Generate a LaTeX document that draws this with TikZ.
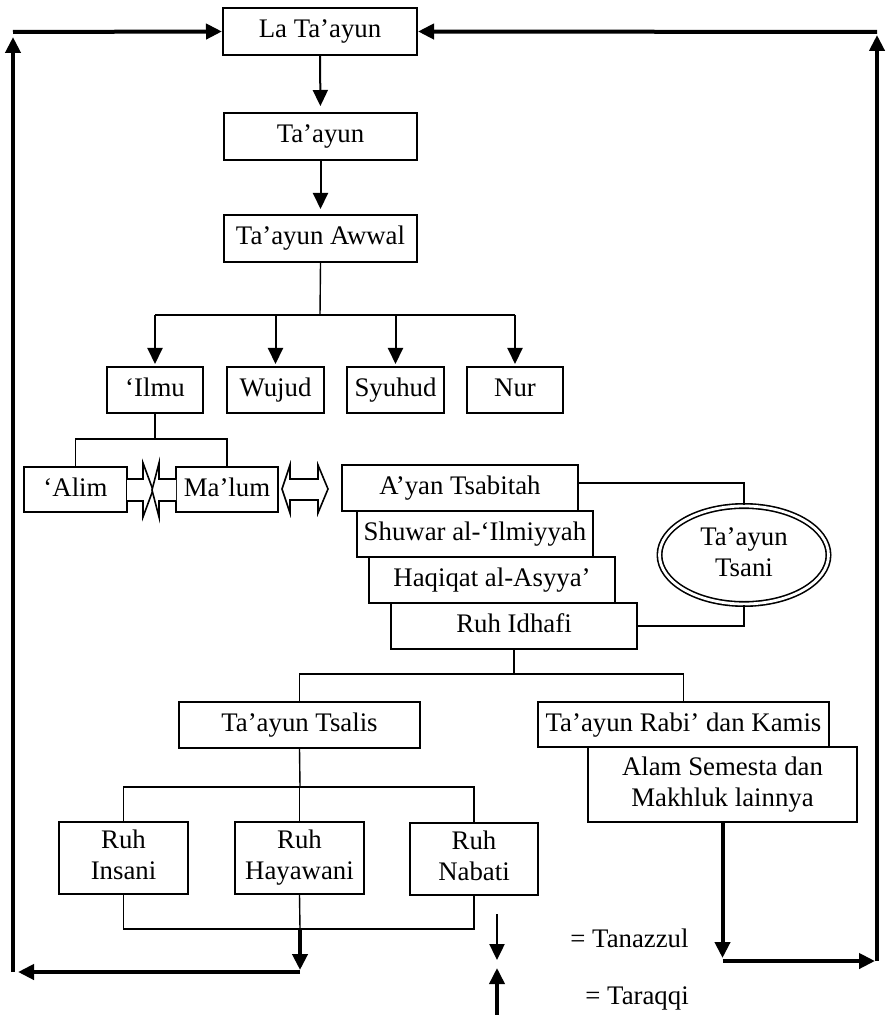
\documentclass[tikz,border=0pt]{standalone}
\usepackage{fontspec}
\setmainfont{Liberation Serif}
\usetikzlibrary{arrows.meta,shapes.geometric,calc}
\begin{document}
\begin{tikzpicture}[x=0.5pt,y=-0.5pt,
  txt/.style={font=\fontsize{13.4pt}{15.5pt}\selectfont},
  box/.style={txt,draw,line width=1pt,fill=white,inner sep=0pt,align=center},
  one/.style={box,text height=9.5pt,text depth=3pt},
  two/.style={box,text depth=3pt},
  conn/.style={line width=0.7pt},
  arr/.style={line width=1pt,-{Triangle[width=7.5pt,length=8pt]}},
  thkarr/.style={line width=2pt,-{Triangle[width=7.5pt,length=8pt]}},
  blk/.style={draw,line width=0.8pt,fill=white,line join=miter},
  lbl/.style={txt,inner sep=0pt}]
\useasboundingbox (0,0) rectangle (885,1015);
\fill[white] (0,0) rectangle (885,1015);

% boxes
\node[one,minimum width=97pt,minimum height=23.5pt] (lat) at (320,31.5) {La Ta’ayun};
\node[one,minimum width=96.5pt,minimum height=23.5pt] (tay) at (320.5,136.5) {Ta’ayun};
\node[one,minimum width=96.5pt,minimum height=23.5pt] (awwal) at (320.5,238.5) {Ta’ayun Awwal};
\node[one,minimum width=48pt,minimum height=23pt] (ilmu) at (155,390) {‘Ilmu};
\node[one,minimum width=48.5pt,minimum height=23pt] (wujud) at (275.5,390) {Wujud};
\node[one,minimum width=48.5pt,minimum height=23pt] (syuhud) at (395.5,390) {Syuhud};
\node[one,minimum width=48pt,minimum height=23pt] (nur) at (515,390) {Nur};
\node[one,minimum width=51.5pt,minimum height=22.5pt] (alim) at (75.5,489.5) {‘Alim};
\node[one,minimum width=51pt,minimum height=22.5pt] (malum) at (227,489.5) {Ma’lum};
\node[one,minimum width=118pt,minimum height=23pt] (ayan) at (460,488) {A’yan Tsabitah};
\node[one,minimum width=118pt,minimum height=23pt] (shuwar) at (475,534) {Shuwar al-‘Ilmiyyah};
\node[one,minimum width=123pt,minimum height=23pt] (haqiqat) at (492,580) {Haqiqat al-Asyya’};
\node[one,minimum width=123pt,minimum height=23pt] (idhafi) at (514,626) {Ruh Idhafi};
\node[txt,ellipse,draw,double,double distance=1.4pt,line width=0.8pt,inner sep=0pt,text depth=3pt,
      minimum width=84.5pt,minimum height=49pt,align=center] (ell) at (744,555) {Ta’ayun\\Tsani};
\node[one,minimum width=120.5pt,minimum height=23pt] (tsalis) at (299.5,725) {Ta’ayun Tsalis};
\node[one,minimum width=145.5pt,minimum height=22.5pt] (rabi) at (683.5,724.5) {Ta’ayun Rabi’ dan Kamis};
\node[two,minimum width=134.5pt,minimum height=37.5pt] (alam) at (722.5,784.5) {Alam Semesta dan\\Makhluk lainnya};
\node[two,minimum width=64.5pt,minimum height=36pt] (insani) at (123.5,858) {Ruh\\Insani};
\node[two,minimum width=64.5pt,minimum height=36pt] (hayawani) at (299.5,858) {Ruh\\Hayawani};
\node[two,minimum width=64pt,minimum height=36pt] (nabati) at (474,859) {Ruh\\Nabati};

% top chain
\draw[arr,shorten >=3pt] (lat.south) -- (tay.north);
\draw[arr,shorten >=2.5pt] (tay.south) -- (awwal.north);

% Ta'ayun Awwal fork
\coordinate (b1) at (320,315);
\draw[conn] (awwal.south) -- (b1);
\draw[line width=1pt] (ilmu.north |- b1) -- (nur.north |- b1);
\foreach \n in {ilmu,wujud,syuhud,nur}
  \draw[arr,shorten >=1pt] (\n.north |- b1) -- (\n.north);

% 'Ilmu fork
\coordinate (b2) at (155,439);
\draw[conn] (ilmu.south) -- (b2);
\draw[conn] (alim.north) -- (alim.north |- b2) -- (malum.north |- b2) -- (malum.north);

% block arrows
\draw[blk] (127,479) -- (143,479) -- (143,463) -- (153,490) -- (143,517) -- (143,501) -- (127,501);
\draw[blk] (176,479) -- (159,479) -- (159,463) -- (152,490) -- (159,517) -- (159,501) -- (176,501);
\draw[blk] (282,489) -- (290,465) -- (290,479) -- (318,479) -- (318,465) -- (328,489)
  -- (318,513) -- (318,500) -- (290,500) -- (290,513) -- cycle;

% Ta'ayun Tsani links
\draw[conn] ([yshift=2.5pt]ayan.east) -| (ell.north);
\draw[conn] (idhafi.east) -| (ell.south);

% Ruh Idhafi fork
\coordinate (b3) at (514,674);
\draw[conn] (idhafi.south) -- (b3);
\draw[conn] (tsalis.north) -- (tsalis.north |- b3) -- (rabi.north |- b3) -- (rabi.north);

% Ta'ayun Tsalis fork
\coordinate (b4) at (300,787);
\draw[conn] (tsalis.south) -- (b4);
\draw[conn] (insani.north) -- (insani.north |- b4) -- (nabati.north |- b4) -- (nabati.north);
\draw[conn] (hayawani.north) -- (hayawani.north |- b4);

% bottom join
\coordinate (b5) at (300,929);
\draw[conn] (insani.south) -- (insani.south |- b5) -- (nabati.south |- b5) -- (nabati.south);
\draw[conn] (hayawani.south) -- (b5);

% left return path
\coordinate (b6) at (300,970);
\coordinate (c1) at (13,972);
\coordinate (c2) at (13,32);
\draw[thkarr] (b5) -- (b6);
\draw[thkarr] (b6 |- c1) -- ([xshift=2.5pt]c1);
\draw[thkarr] (c1) -- ([yshift=-2.5pt]c2);
\draw[thkarr] (c2) -- (lat.west);

% right return path
\coordinate (d1) at (722.5,961);
\coordinate (d2) at (877,961);
\coordinate (d3) at (877,32);
\draw[thkarr] (alam.south) -- ([yshift=1.5pt]d1);
\draw[thkarr] (d1) -- ([xshift=-1pt]d2);
\draw[thkarr] (d2) -- ([yshift=-1.5pt]d3);
\draw[thkarr] (d3) -- (lat.east);

% legend
\coordinate (l1) at (497,914);
\coordinate (l2) at (497,960);
\coordinate (l3) at (497,1015);
\coordinate (l4) at (497,968);
\draw[line width=1.2pt,-{Triangle[width=7.5pt,length=8pt]}] (l1) -- (l2);
\draw[line width=1.8pt,-{Triangle[width=7.5pt,length=8pt]}] (l3) -- (l4);
\node[lbl,anchor=west] (tan) at (570,938) {= Tanazzul};
\node[lbl,anchor=west] (tar) at (585,998) {= Taraqqi};
\end{tikzpicture}
\end{document}
